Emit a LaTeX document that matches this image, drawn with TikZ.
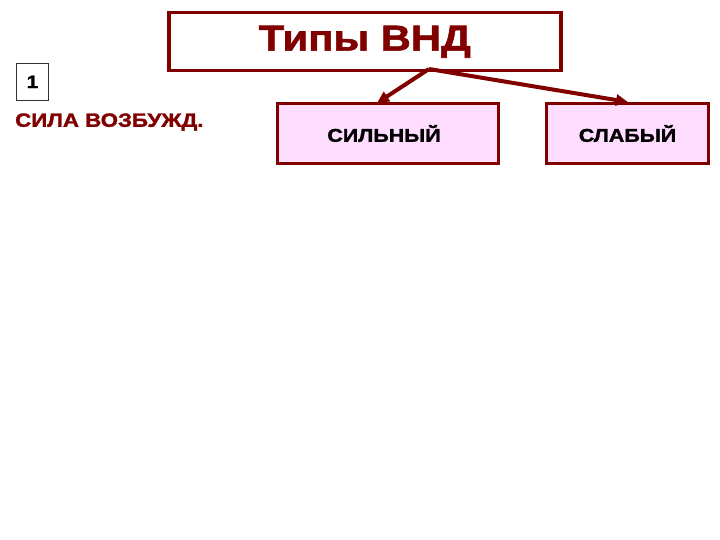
\documentclass[tikz,border=0pt]{standalone}
\usepackage{fontspec}
\setmainfont{Liberation Sans}
\newfontfamily\widefont[FakeStretch=1.16,FakeBold=1.6]{Liberation Sans}
\usetikzlibrary{arrows.meta,positioning}
\definecolor{vndred}{RGB}{128,0,0}
\definecolor{vndpink}{RGB}{255,221,255}

\begin{document}
\begin{tikzpicture}[
    x=1pt, y=-1pt, >=Latex,
    typebox/.style={draw=vndred, line width=3pt, fill=vndpink, minimum width=221pt, minimum height=60pt, inner sep=0pt, font=\widefont\bfseries\fontsize{18.5}{22}\selectfont},
    link/.style={-{Triangle[length=12pt,width=11pt]}, line width=4pt, vndred}
]

% размер слайда
\path[use as bounding box] (0,0) rectangle (720,540);

% заголовок
\node[draw=vndred, line width=3.5pt, minimum width=392pt, minimum height=58pt, inner sep=0pt,
      anchor=north west, text=vndred, font=\widefont\bfseries\fontsize{36}{40}\selectfont]
      (title) at (167,11) {\raisebox{-2pt}{Типы ВНД}};

% номер и свойство
\node[draw=black!80, line width=0.8pt, minimum width=32pt, minimum height=37pt, inner sep=0pt,
      anchor=north west, font=\widefont\bfseries\fontsize{18}{22}\selectfont] (num) at (16,63) {1};
\node[anchor=west, inner sep=0pt, text=vndred, font=\widefont\bfseries\fontsize{19.2}{22}\selectfont] (prop) at (15,122) {СИЛА ВОЗБУЖД.};

% типы
\node[typebox, anchor=north west] (strong) at (276,102) {\hspace*{-8pt}СИЛЬНЫЙ};
\node[typebox, anchor=north west, minimum width=162pt] (weak) at (545,102) {СЛАБЫЙ};

% стрелки
\coordinate (fork) at (429,69);
\coordinate (strongtop) at (377,103);
\coordinate (weaktop) at (628,102);
\draw[link] (fork) -- (strongtop);
\draw[link] (fork) -- (weaktop);

\end{tikzpicture}
\end{document}
